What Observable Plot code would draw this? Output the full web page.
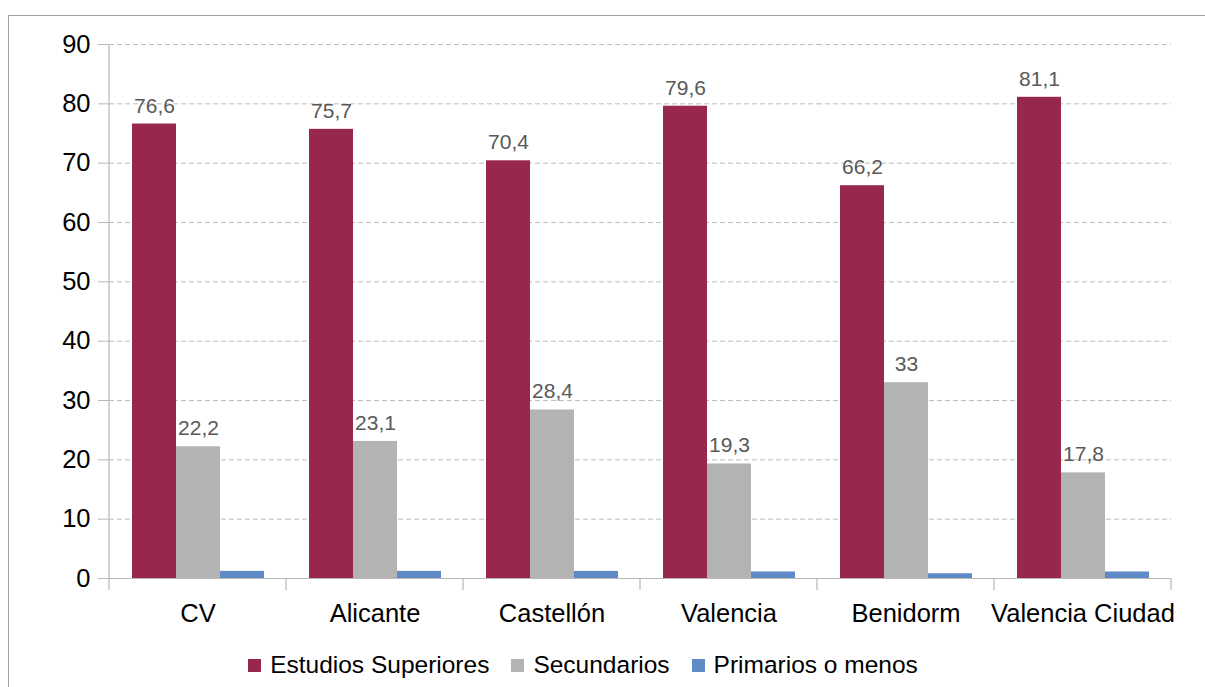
<!DOCTYPE html>
<html>
<head>
<meta charset="utf-8">
<script src="https://cdn.jsdelivr.net/npm/d3@7"></script>
<script src="https://cdn.jsdelivr.net/npm/@observablehq/plot@0.6"></script>
<style>
  html, body { margin: 0; padding: 0; background: #fff; }
  body { width: 1205px; height: 687px; overflow: hidden; position: relative; font-family: "Liberation Sans", Arial, sans-serif; }
  #frame { position: absolute; left: 8px; top: 15px; width: 1210px; height: 690px; border: 1.5px solid #a0a0a0; box-sizing: border-box; }
  #chart { position: absolute; left: 0; top: 0; }
  #legend { position: absolute; top: 650px; left: 0; width: 1166px; display: flex; justify-content: center; gap: 22px; font-size: 24.5px; color: #000; line-height: 30px; }
  #legend span.item { display: flex; align-items: center; gap: 9px; }
  #legend span.sw { width: 13px; height: 13px; display: inline-block; }
</style>
</head>
<body>
<div id="frame"></div>
<div id="chart"></div>
<div id="legend"></div>
<script>
const categories = ["CV", "Alicante", "Castellón", "Valencia", "Benidorm", "Valencia Ciudad"];
const seriesNames = ["Estudios Superiores", "Secundarios", "Primarios o menos"];
const superiores = [76.6, 75.7, 70.4, 79.6, 66.2, 81.1];
const secundarios = [22.2, 23.1, 28.4, 19.3, 33, 17.8];
const primarios = [1.2, 1.2, 1.2, 1.1, 0.8, 1.1];
const colors = ["#98284b", "#b3b3b3", "#5e8ac7"];
const yTicks = [0, 10, 20, 30, 40, 50, 60, 70, 80, 90];

const seriesValues = [superiores, secundarios, primarios];
const data = [];
categories.forEach((c, i) => {
  seriesNames.forEach((s, j) => {
    data.push({category: c, series: s, value: seriesValues[j][i], labelled: j < 2});
  });
});
const fmt = v => String(v).replace(".", ",");

const plot = Plot.plot({
  width: 1205,
  height: 640,
  marginTop: 44,
  marginBottom: 62,
  marginLeft: 109,
  marginRight: 34,
  style: {fontFamily: '"Liberation Sans", Arial, sans-serif', background: "transparent"},
  fx: {domain: categories, padding: 0, label: null},
  x: {domain: seriesNames, paddingInner: 0, paddingOuter: 0.5, axis: null},
  y: {domain: [0, 90], label: null},
  color: {domain: seriesNames, range: colors},
  marks: [
    Plot.gridY(yTicks, {stroke: "#bdbdbd", strokeOpacity: 1, strokeDasharray: "5,3"}),
    Plot.barY(data, {fx: "category", x: "series", y: "value", fill: "series"}),
    Plot.ruleY([0], {stroke: "#b8b8b8", strokeWidth: 1.2}),
    Plot.text(data.filter(d => d.labelled), {
      fx: "category", x: "series", y: "value", text: d => fmt(d.value),
      dy: -11.5, lineAnchor: "bottom", fill: "#595959", fontSize: 21
    }),
    Plot.axisY(yTicks, {tickSize: 11, tickPadding: 8, fontSize: 25.5, fill: "#000", stroke: "#b8b8b8", label: null}),
    Plot.axisFx({anchor: "bottom", tickSize: 0, tickPadding: 25, fontSize: 25.5, fill: "#000", label: null})
  ]
});
document.getElementById("chart").appendChild(plot);

// axis line and category boundary ticks, from the plot's own scales
const fx = plot.scale("fx");
const y = plot.scale("y");
const svg = d3.select(plot);
const y0 = y.apply(0), yTop = y.apply(90);
const step = fx.step ?? fx.bandwidth;
const bounds = categories.map(c => fx.apply(c)).concat([fx.apply(categories[categories.length - 1]) + step]);
const g = svg.append("g").attr("stroke", "#b8b8b8").attr("stroke-width", 1.2);
g.append("line").attr("x1", bounds[0]).attr("x2", bounds[0]).attr("y1", yTop).attr("y2", y0 + 12);
bounds.slice(1).forEach(b => {
  g.append("line").attr("x1", b).attr("x2", b).attr("y1", y0).attr("y2", y0 + 12);
});

const legend = document.getElementById("legend");
seriesNames.forEach((s, i) => {
  const item = document.createElement("span");
  item.className = "item";
  item.innerHTML = `<span class="sw" style="background:${colors[i]}"></span><span>${s}</span>`;
  legend.appendChild(item);
});
</script>
</body>
</html>
